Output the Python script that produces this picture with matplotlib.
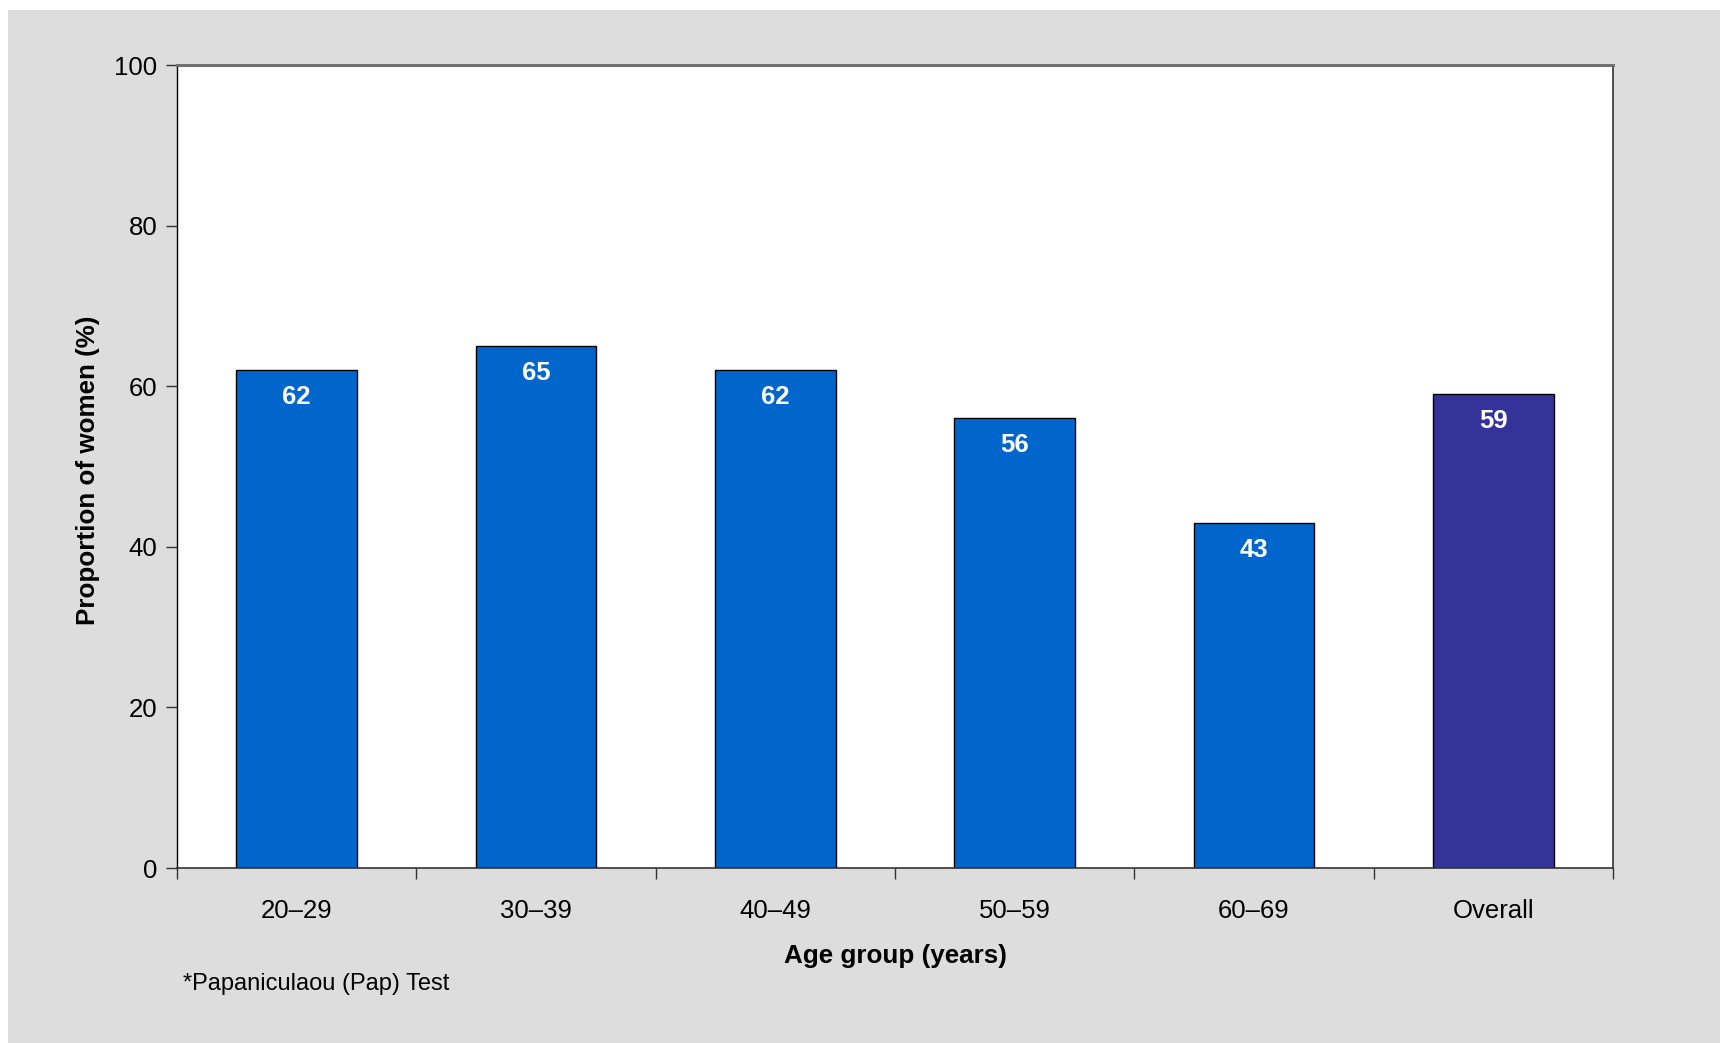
import numpy as np
import matplotlib.pyplot as plt
from matplotlib.patches import Rectangle

# Proportion of women screened, by age group
age_groups = ['20–29', '30–39', '40–49', '50–59', '60–69', 'Overall']
proportions = [62, 65, 62, 56, 43, 59]
bar_colors = ['#0066CC', '#0066CC', '#0066CC', '#0066CC', '#0066CC', '#333399']

plt.rcParams['font.family'] = ['Liberation Sans', 'DejaVu Sans']

fig = plt.figure(figsize=(17.2, 10.43), dpi=100, facecolor='white')

# grey panel behind the chart
fig.patches.append(Rectangle((8 / 1720, 0), 1, 1 - 10 / 1043, transform=fig.transFigure,
                             facecolor='#DDDDDD', edgecolor='none', zorder=-10))

ax = fig.add_axes([177 / 1720, 1 - 868 / 1043, 1436 / 1720, 803 / 1043])
ax.set_facecolor('white')

x = np.arange(len(age_groups))
bars = ax.bar(x, proportions, width=0.505, color=bar_colors, edgecolor='black', linewidth=1)

for rect, val in zip(bars, proportions):
    ax.annotate(str(val), (rect.get_x() + rect.get_width() / 2, val),
                xytext=(0, -19.5), textcoords='offset points', ha='center', va='center',
                color='white', fontsize=18.5, fontweight='bold')

ax.set_xlim(-0.5, len(age_groups) - 0.5)
ax.set_ylim(0, 100)
ax.set_yticks([0, 20, 40, 60, 80, 100])

# x ticks sit between the bars, labels sit under the bars
ax.set_xticks(np.arange(len(age_groups) + 1) - 0.5)
ax.set_xticklabels([])
ax.set_xticks(x, minor=True)
ax.set_xticklabels(age_groups, minor=True)
ax.tick_params(axis='x', which='minor', length=0, pad=22.5, labelsize=18.5)
ax.tick_params(axis='x', which='major', direction='out', length=8, width=1, color='#333333')
ax.tick_params(axis='y', direction='out', length=8, width=1, labelsize=18.5, pad=6, color='#333333')

ax.spines['left'].set_color('black')
ax.spines['left'].set_linewidth(1)
ax.spines['bottom'].set_color('#333333')
ax.spines['bottom'].set_linewidth(1.2)
ax.spines['top'].set_color('#707070')
ax.spines['top'].set_linewidth(2.2)
ax.spines['right'].set_color('#333333')
ax.spines['right'].set_linewidth(1.2)

fig.text(895 / 1720, 1 - 956 / 1043, 'Age group (years)', ha='center', va='center',
         fontsize=18.7, fontweight='bold')
fig.text(88 / 1720, 1 - 470 / 1043, 'Proportion of women (%)', ha='center', va='center',
         rotation=90, fontsize=18.7, fontweight='bold')
fig.text(183 / 1720, 1 - 984 / 1043, '*Papaniculaou (Pap) Test', ha='left', va='center',
         fontsize=17)

fig.savefig('out.png', dpi=100, facecolor=fig.get_facecolor())
